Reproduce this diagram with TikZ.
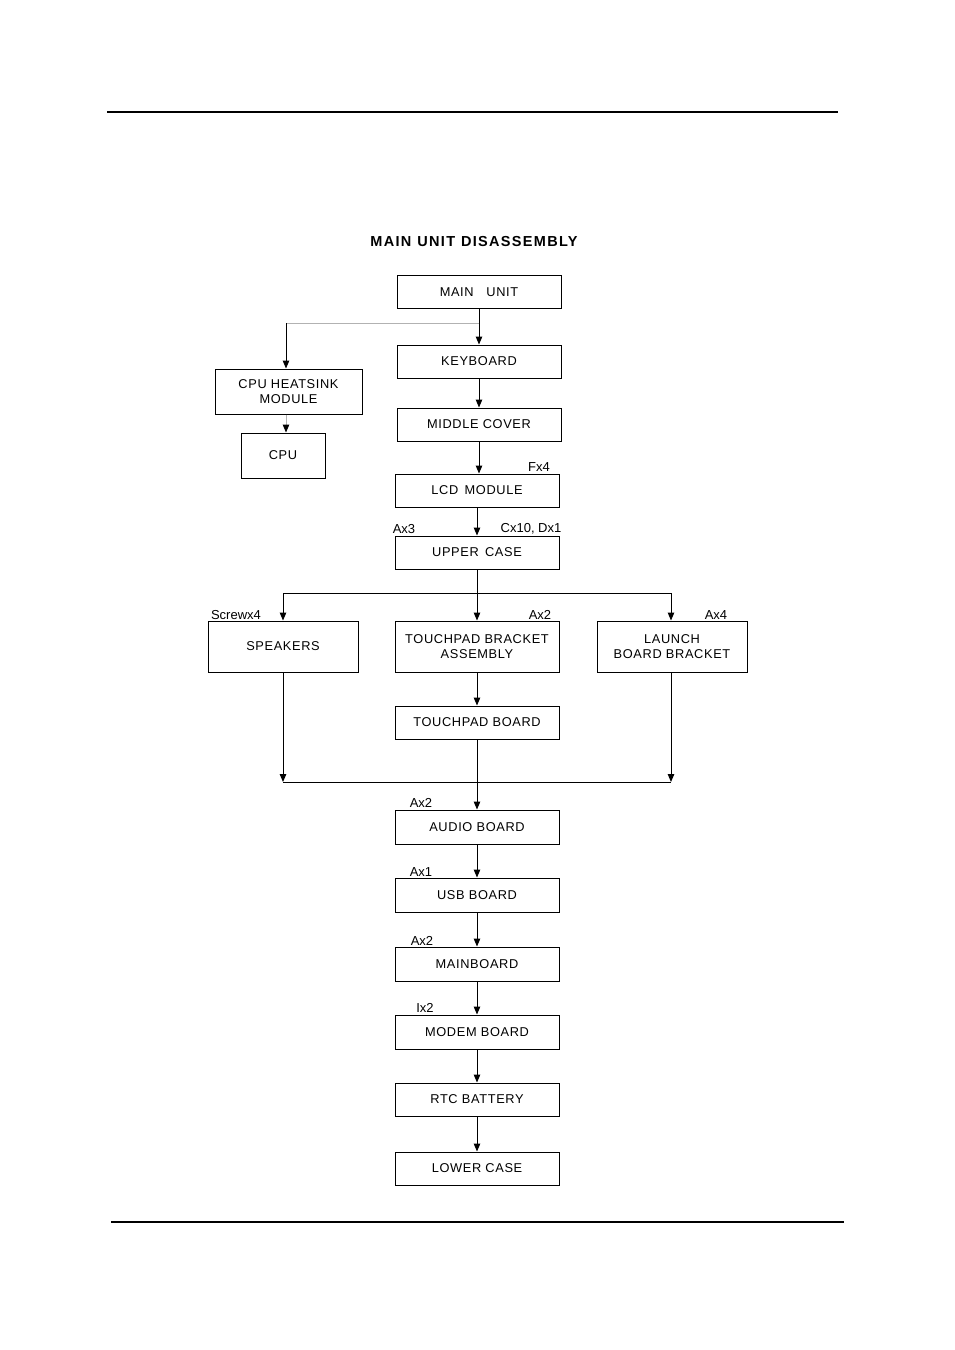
\documentclass[tikz,border=0pt]{standalone}
\usepackage{fontspec}
\setmainfont{Liberation Sans}
\usetikzlibrary{arrows.meta, positioning, calc}
\newcommand\pfont{\fontsize{12.8}{14.5}\selectfont\addfontfeatures{LetterSpace=5}}
\newcommand\tagfont{\fontsize{13}{14}\selectfont}

\begin{document}
\begin{tikzpicture}[
  x=1pt, y=-1pt,
  >={Triangle[length=8pt, width=6.5pt]},
  partbox/.style={
    draw, line width=1pt, minimum width=#1pt, minimum height=33pt,
    font=\pfont, align=center, inner sep=2pt
  },
  partbox/.default=164,
  arr/.style={->, line width=1pt},
  faint/.style={line width=1pt, draw=black!30},
  tag/.style={font=\tagfont, inner sep=0pt},
  rule/.style={line width=1.3pt},
]

% Page
\useasboundingbox (0,0) rectangle (954,1350);
\draw[rule] (107,112) -- (838,112);
\draw[rule] (111,1222) -- (844,1222);

% Title
\node[font=\fontsize{14.5}{16}\selectfont\bfseries\addfontfeatures{LetterSpace=9}] (title) at (474,242)
  {MAIN\hspace{6pt}UNIT\hspace{6pt}DISASSEMBLY};

% =============================================
% Upper chain
% =============================================
\node[partbox] (main) at (479,292) {MAIN\quad UNIT};
\node[partbox] (kbd) at (479,361.5) {KEYBOARD};
\node[partbox] (midc) at (479,424.5) {MIDDLE COVER};
\node[partbox] (lcd) at (477,490.5) {LCD\, MODULE};
\node[partbox] (upper) at (477,552.5) {UPPER\, CASE};

\node[partbox=147, minimum height=45pt] (hsink) at (288.5,391.5)
  {CPU HEATSINK\\MODULE};
\node[partbox=84, minimum height=45pt] (cpu) at (283,455.5) {CPU};

\coordinate (j1) at (479,323);
\coordinate (j2) at (286,323);

\draw[arr] (main) -- (kbd);
\draw[faint] (j1) -- (j2);
\draw[arr] (j2) -- (j2 |- hsink.north);
\draw[faint, -{Triangle[length=8pt, width=6.5pt, black]}] (hsink.south -| j2) -- (cpu.north -| j2);
\draw[arr] (kbd) -- (midc);
\draw[arr] (midc.south) -- (midc.south |- lcd.north);
\draw[arr] (lcd) -- (upper);

\node[tag] (fx) at (539,467) {Fx4};
\node[tag] (ax3) at (404,529) {Ax3};
\node[tag] (cdx) at (531,529) {Cx10, Dx1};

% =============================================
% Three branches
% =============================================
\node[partbox=150, minimum height=51pt] (spk) at (283,646.5) {SPEAKERS};
\node[partbox, minimum height=51pt] (tpbr) at (477,646.5)
  {TOUCHPAD BRACKET\\ASSEMBLY};
\node[partbox=150, minimum height=51pt] (lbb) at (672,646.5)
  {LAUNCH\\BOARD BRACKET};
\node[partbox] (tpb) at (477,722.5) {TOUCHPAD BOARD};

\coordinate (split) at (477,593);
\coordinate (mergeL) at (283,782);
\coordinate (mergeR) at (671,782);

\draw[line width=1pt] (upper) -- (split);
\draw[arr] (split) -| (spk.north);
\draw[arr] (split) -- (tpbr);
\draw[arr] (split) -| (lbb.north -| mergeR);
\draw[arr] (tpbr) -- (tpb);
\draw[arr] (spk) -- (mergeL);
\draw[arr] (lbb.south -| mergeR) -- (mergeR);
\draw[line width=1pt] (mergeL) -- (mergeR);

\node[tag] (scr) at (236,615) {Screwx4};
\node[tag] (ax2a) at (540,615) {Ax2};
\node[tag] (ax4) at (716,615) {Ax4};

% =============================================
% Lower chain
% =============================================
\node[partbox, minimum height=34pt] (audio) at (477,827) {AUDIO BOARD};
\node[partbox, minimum height=34pt] (usb) at (477,895) {USB BOARD};
\node[partbox, minimum height=34pt] (mb) at (477,964) {MAINBOARD};
\node[partbox, minimum height=34pt] (modem) at (477,1032) {MODEM BOARD};
\node[partbox] (rtc) at (477,1099.5) {RTC BATTERY};
\node[partbox] (lower) at (477,1168.5) {LOWER CASE};

\draw[arr] (tpb) -- (audio);
\draw[arr] (audio) -- (usb);
\draw[arr] (usb) -- (mb);
\draw[arr] (mb) -- (modem);
\draw[arr] (modem) -- (rtc);
\draw[arr] (rtc) -- (lower);

\node[tag] (ax2b) at (421,803) {Ax2};
\node[tag] (ax1) at (421,872) {Ax1};
\node[tag] (ax2c) at (422,941) {Ax2};
\node[tag] (ix2) at (425,1008) {Ix2};

\end{tikzpicture}
\end{document}
